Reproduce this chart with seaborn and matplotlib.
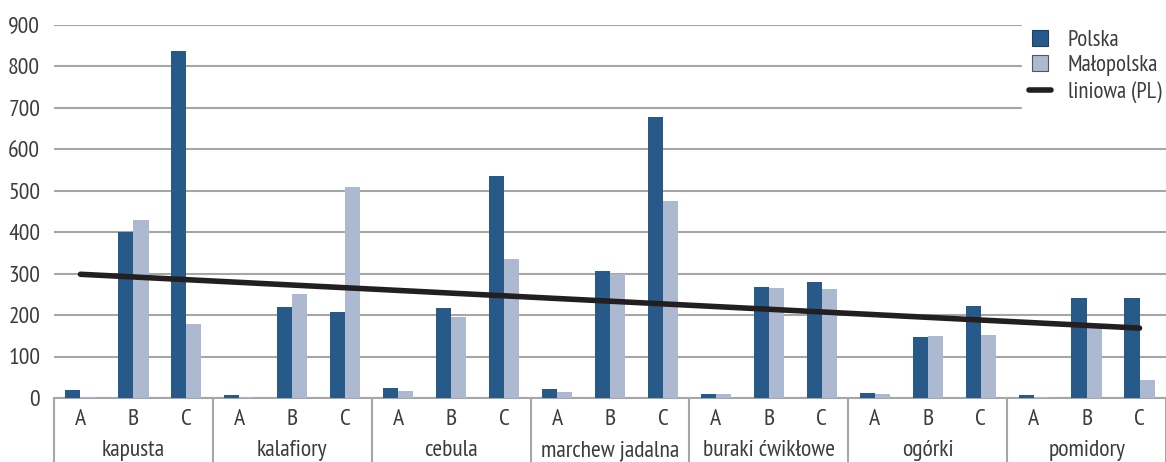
import numpy as np
import pandas as pd
import matplotlib
matplotlib.use("Agg")
import matplotlib.pyplot as plt
import matplotlib.transforms as mtransforms
from matplotlib.lines import Line2D
import seaborn as sns

# dane
grupy = ["kapusta", "kalafiory", "cebula", "marchew jadalna", "buraki ćwikłowe", "ogórki", "pomidory"]
podkategorie = ["A", "B", "C"]
polska = [20, 400, 837, 8, 219, 207, 24, 216, 536, 22, 305, 678, 9, 268, 280, 13, 147, 222, 8, 240, 240]
malopolska = [3, 430, 178, 2, 250, 508, 16, 195, 335, 14, 300, 475, 9, 265, 263, 9, 150, 153, 2, 170, 43]
y_ticks = [0, 100, 200, 300, 400, 500, 600, 700, 800, 900]

kolor_pl = "#275a88"
kolor_mp = "#adb9d1"
kolor_tekst = "#3c3c3c"
kolor_siatka = "#a6a6a6"

sns.set_style("white")
plt.rcParams["font.family"] = ["PT Sans Narrow", "Roboto Condensed", "Archivo Narrow", "DejaVu Sans"]

etykiety = [f"{g} {p}" for g in grupy for p in podkategorie]
df = pd.DataFrame({
    "kategoria": etykiety * 2,
    "wartosc": polska + malopolska,
    "seria": ["Polska"] * len(polska) + ["Małopolska"] * len(malopolska),
})

fig = plt.figure(figsize=(11.66, 4.62), dpi=100)
ax = fig.add_axes([54 / 1166, 1 - 398 / 462, 1 - 54 / 1166, (398 - 24.5) / 462])

sns.barplot(data=df, x="kategoria", y="wartosc", hue="seria", order=etykiety,
            palette=[kolor_pl, kolor_mp], width=0.57, saturation=1, ax=ax,
            legend=False, linewidth=0)

# linia trendu dla Polski
sns.regplot(x=np.arange(len(polska)), y=np.array(polska), scatter=False, ci=None, ax=ax,
            line_kws={"color": "#231f20", "lw": 4, "solid_capstyle": "round", "zorder": 5})

ax.set_xlim(-0.5, len(etykiety) - 0.5)
ax.set_ylim(0, 900)
ax.set_yticks(y_ticks)
ax.yaxis.grid(True, color=kolor_siatka, lw=1.5)
ax.set_axisbelow(True)
for s in ["left", "right", "top"]:
    ax.spines[s].set_visible(False)
ax.spines["bottom"].set_color(kolor_siatka)
ax.spines["bottom"].set_linewidth(1.5)
ax.spines["bottom"].set_zorder(0.5)

ax.set_xticks(range(len(etykiety)))
ax.set_xticklabels(podkategorie * len(grupy))
ax.tick_params(axis="x", length=0, pad=8, labelsize=17, labelcolor=kolor_tekst)
ax.tick_params(axis="y", length=0, pad=10, labelsize=17, labelcolor=kolor_tekst)
ax.set_xlabel("")
ax.set_ylabel("")

# separatory grup i nazwy grup
trans = mtransforms.blended_transform_factory(ax.transData, ax.transAxes)
for i in range(len(grupy) + 1):
    ax.plot([i * 3 - 0.5] * 2, [0, -0.2], transform=trans, color=kolor_siatka,
            lw=1.5, clip_on=False)
for i, g in enumerate(grupy):
    ax.text(i * 3 + 1, -0.14, g, transform=trans, ha="center", va="center",
            fontsize=17, color=kolor_tekst)

uchwyty = [
    Line2D([], [], ls="None", marker="s", markersize=11, markerfacecolor=kolor_pl,
           markeredgecolor="#1f3f60", markeredgewidth=0.8, label="Polska"),
    Line2D([], [], ls="None", marker="s", markersize=11, markerfacecolor=kolor_mp,
           markeredgecolor="#555555", markeredgewidth=0.8, label="Małopolska"),
    Line2D([0], [0], color="#231f20", lw=4, solid_capstyle="round", label="liniowa (PL)"),
]
leg = ax.legend(handles=uchwyty, loc="upper right", bbox_to_anchor=(1.012, 1.035),
                frameon=True, fontsize=16.5, handlelength=1.0,
                labelspacing=0.2, handletextpad=0.7, borderpad=0.3, fancybox=False)
leg.get_frame().set_edgecolor("white")
leg.get_frame().set_facecolor("white")
leg.get_frame().set_alpha(1)
for t in leg.get_texts():
    t.set_color(kolor_tekst)

fig.savefig("out.png", dpi=100)
